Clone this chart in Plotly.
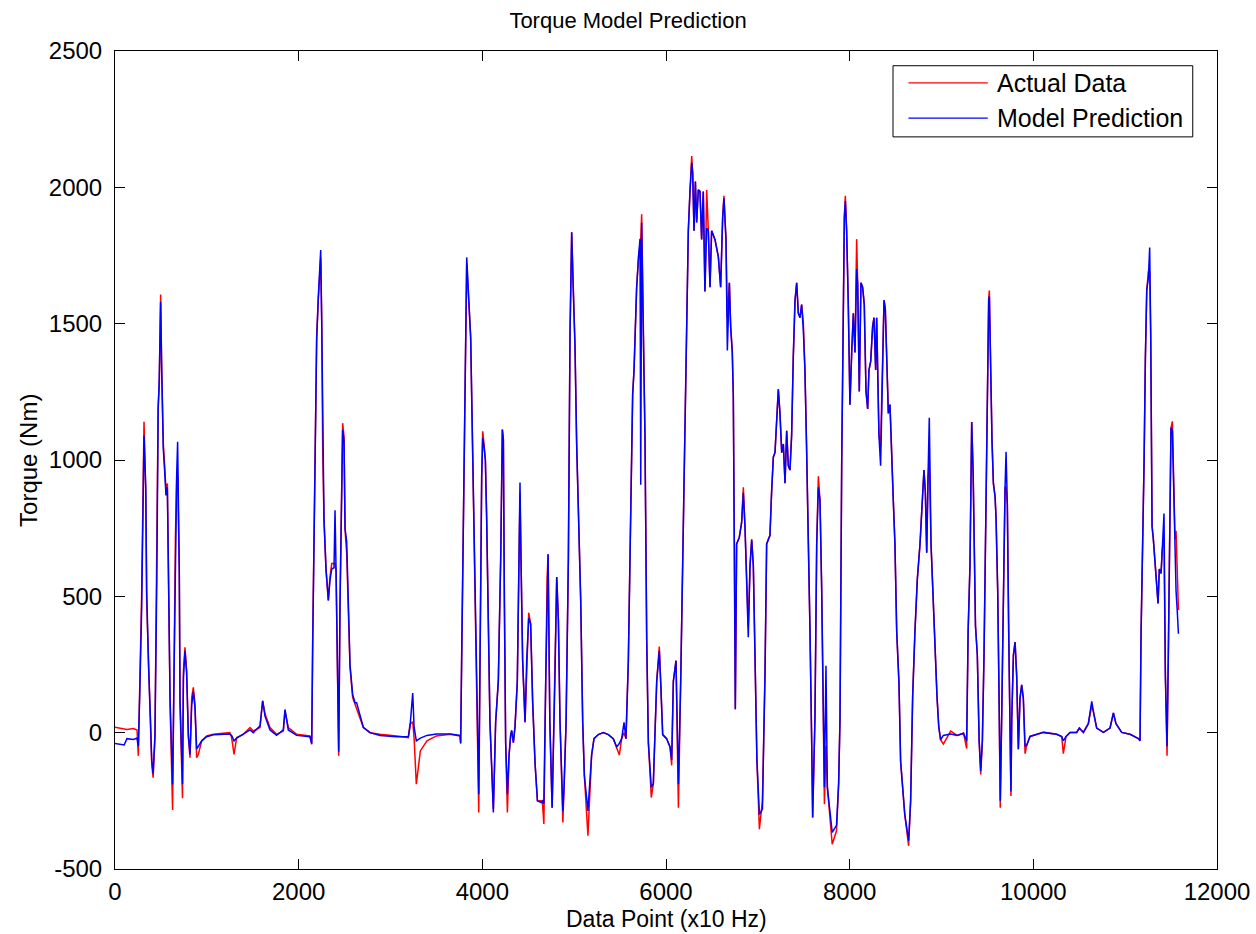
import plotly.graph_objects as go

# ---- data (x in data points, torque in Nm) ----
x_pts = [
    0, 100, 130, 200, 240, 254, 270, 290, 316, 335, 345, 352, 365, 388, 400, 415, 435, 455, 470, 482,
    497, 508, 519, 526, 544, 555, 570, 580, 600, 627, 640, 658, 672, 682, 700, 708, 735, 745, 762, 780,
    799, 817, 835, 853, 871, 889, 907, 944, 998, 1071, 1250, 1270, 1296, 1325, 1397, 1470, 1506, 1579, 1608, 1634,
    1688, 1760, 1833, 1851, 1887, 1978, 2123, 2142, 2153, 2167, 2178, 2196, 2214, 2240, 2251, 2262, 2276, 2298, 2323, 2341,
    2360, 2385, 2396, 2407, 2421, 2436, 2450, 2465, 2479, 2494, 2505, 2523, 2541, 2559, 2588, 2614, 2631, 2668, 2704, 2777,
    2886, 3068, 3194, 3212, 3242, 3257, 3281, 3325, 3397, 3500, 3650, 3757, 3764, 3775, 3795, 3809, 3830, 3873, 3884, 3902,
    3920, 3938, 3961, 3993, 4004, 4018, 4033, 4047, 4065, 4083, 4120, 4145, 4174, 4200, 4218, 4229, 4240, 4254, 4273, 4291,
    4309, 4320, 4338, 4356, 4381, 4399, 4410, 4421, 4439, 4465, 4483, 4505, 4526, 4548, 4574, 4600, 4640, 4655, 4670, 4690,
    4705, 4716, 4735, 4760, 4790, 4810, 4828, 4846, 4877, 4890, 4912, 4937, 4955, 4973, 4991, 5009, 5027, 5045, 5056, 5071,
    5093, 5111, 5150, 5190, 5216, 5263, 5318, 5372, 5426, 5463, 5492, 5517, 5543, 5564, 5590, 5615, 5637, 5652, 5680, 5702,
    5717, 5725, 5735, 5753, 5771, 5790, 5808, 5840, 5862, 5899, 5927, 5942, 5964, 6007, 6044, 6062, 6080, 6109, 6123, 6135,
    6160, 6182, 6207, 6225, 6243, 6262, 6280, 6291, 6305, 6320, 6334, 6352, 6370, 6388, 6406, 6424, 6443, 6461, 6479, 6497,
    6533, 6570, 6595, 6617, 6631, 6653, 6668, 6690, 6704, 6722, 6733, 6744, 6755, 6769, 6798, 6824, 6842, 6860, 6878, 6896,
    6915, 6933, 6951, 6969, 6990, 7017, 7050, 7078, 7096, 7114, 7132, 7150, 7169, 7187, 7205, 7223, 7241, 7260, 7278, 7296,
    7314, 7332, 7350, 7368, 7386, 7405, 7423, 7441, 7459, 7477, 7495, 7513, 7531, 7550, 7568, 7586, 7597, 7622, 7641, 7659,
    7677, 7695, 7713, 7725, 7742, 7757, 7810, 7857, 7880, 7895, 7913, 7931, 7942, 7953, 7967, 7985, 8003, 8022, 8040, 8058,
    8076, 8087, 8105, 8123, 8141, 8159, 8178, 8196, 8210, 8229, 8250, 8265, 8283, 8294, 8319, 8337, 8356, 8374, 8388, 8403,
    8421, 8439, 8457, 8475, 8493, 8512, 8537, 8555, 8600, 8642, 8664, 8686, 8711, 8737, 8766, 8795, 8809, 8824, 8839, 8853,
    8867, 8886, 8904, 8922, 8937, 8951, 8970, 8990, 9020, 9100, 9170, 9240, 9274, 9290, 9310, 9329, 9345, 9370, 9390, 9410,
    9427, 9445, 9463, 9480, 9500, 9514, 9521, 9536, 9550, 9565, 9583, 9594, 9612, 9627, 9640, 9655, 9680, 9692, 9703, 9717,
    9732, 9756, 9765, 9783, 9801, 9819, 9837, 9855, 9873, 9891, 9910, 9928, 9964, 10037, 10110, 10254, 10309, 10327, 10356, 10400,
    10472, 10501, 10545, 10599, 10636, 10661, 10690, 10763, 10835, 10872, 10900, 10962, 11053, 11144, 11162, 11173, 11191, 11206, 11220, 11235,
    11253, 11267, 11278, 11293, 11307, 11325, 11343, 11358, 11372, 11391, 11405, 11423, 11438, 11456, 11470, 11485, 11499, 11514, 11529, 11543,
    11554, 11568, 11580,
]

actual_nm = [
    20, 15, 12, 15, 10, -85, 200, 500, 1140, 870, 480, 390, 230, 10, -115, -165, -20, 600, 1200, 1270,
    1607, 1330, 1110, 1060, 960, 890, 914, 595, 100, -284, 227, 718, 939, 950, 595, 104, -240, 227, 313, 227,
    -18, -92, 129, 166, 104, -92, -80, -30, -12, -6, 0, -18, -80, -18, -6, 19, 6, 19, 117, 68,
    19, -6, 6, 80, 19, -6, -12, -43, 350, 657, 963, 1454, 1589, 1740, 1515, 1025, 779, 595, 485, 571,
    620, 620, 620, 595, 227, -85, 472, 840, 1135, 1086, 743, 657, 472, 240, 129, 104, 90, 55, 19, 0,
    -6, -12, -18, 31, 40, -20, -189, -67, -30, -12, -6, -12, -37, 288, 840, 1331, 1720, 1450, 1225, 864,
    489, 113, -293, 939, 1105, 1060, 1000, 789, 414, 38, -280, 38, 188, 639, 1112, 1075, 489, -37, -293, -82,
    -7, 8, -37, 23, 188, 714, 880, 639, 264, 38, 264, 440, 399, 113, -112, -250, -250, -260, -335, 188,
    564, 654, 38, -275, 188, 571, 414, 38, -329, -202, 38, 639, 1465, 1835, 1615, 1420, 1060, 819, 744, 489,
    38, -157, -378, -82, -22, -7, 0, -7, -22, -52, -82, -22, 0, -22, 264, 789, 1240, 1330, 1630, 1750,
    1811, 1811, 1901, 1465, 1090, 339, -37, -238, -187, 188, 316, 188, -7, -22, -52, -120, 188, 264, 38, -275,
    188, 639, 1090, 1465, 1841, 1991, 2115, 2051, 1841, 2021, 1871, 1991, 1985, 1809, 1985, 1618, 1990, 1841, 1634, 1841,
    1809, 1745, 1634, 1889, 1969, 1809, 1522, 1650, 1490, 1394, 1235, 692, 86, 692, 716, 772, 900, 756, 532, 389,
    612, 708, 612, 213, -100, -354, -250, 213, 692, 708, 724, 883, 1011, 1027, 1139, 1259, 1171, 1027, 1059, 915,
    1107, 979, 963, 1091, 1378, 1586, 1650, 1538, 1522, 1570, 1506, 1330, 1043, 740, 373, -26, -311, 54, 692, 940,
    852, 532, 54, -262, -50, -200, -409, -360, -186, 54, 979, 1522, 1889, 1969, 1841, 1570, 1203, 1394, 1538, 1394,
    1810, 1650, 1251, 1650, 1634, 1570, 1251, 1187, 1330, 1362, 1490, 1522, 1330, 1522, 1091, 1050, 1330, 1586, 1554, 1410,
    1171, 1203, 1059, 852, 692, 373, 181, -106, -300, -415, -250, 133, 373, 564, 692, 852, 963, 883, 660, 931,
    1000, 692, 532, 373, 213, 133, 22, -26, -42, 6, -10, -2, -58, 373, 612, 1139, 947, 392, 285, -30,
    -153, -30, 285, 788, 1166, 1590, 1622, 1276, 1071, 914, 867, 788, 521, 127, -275, 49, 678, 898, 900, 835,
    363, -232, 49, 285, 332, 206, -61, 127, 175, 127, -77, -46, -14, -6, 1, -6, -14, -77, -14, 1,
    1, 17, 1, 33, 100, 65, 17, 1, 17, 72, 33, 1, -6, -22, -30, 363, 647, 993, 1370, 1622,
    1690, 1690, 1464, 757, 709, 615, 521, 474, 600, 584, 678, 700, 206, -85, 285, 757, 1118, 1142, 883, 709,
    740, 600, 450,
]

model_nm = [
    -40, -45, -22, -25, -20, -50, 150, 450, 1090, 900, 520, 400, 250, 30, -100, -150, -10, 560, 1180, 1300,
    1580, 1350, 1150, 1040, 940, 870, 900, 600, 120, -190, 200, 700, 950, 1067, 600, 120, -189, 200, 300, 220,
    -10, -80, 100, 150, 90, -60, -50, -30, -15, -8, -5, -10, -30, -20, -5, 10, 0, 25, 117, 60,
    10, -10, 10, 85, 10, -10, -15, -40, 330, 640, 950, 1440, 1600, 1770, 1500, 1040, 780, 600, 485, 560,
    600, 605, 816, 600, 230, -70, 460, 820, 1110, 1070, 750, 700, 480, 250, 140, 110, 110, 60, 20, 0,
    -10, -15, -15, 20, 145, 20, -30, -20, -10, -5, -5, -10, -40, 264, 800, 1360, 1743, 1450, 1225, 864,
    489, 113, -226, 939, 1080, 1050, 1000, 789, 414, 38, -293, 38, 188, 639, 1112, 1075, 489, -37, -226, -82,
    -7, 8, -37, 23, 188, 714, 917, 639, 264, 38, 264, 420, 399, 113, -112, -250, -256, -250, -260, 188,
    564, 654, 38, -275, 188, 571, 414, 38, -287, -202, 38, 639, 1465, 1835, 1615, 1420, 1060, 819, 744, 489,
    38, -157, -287, -82, -22, -7, 0, -7, -22, -52, -40, -22, 38, -22, 264, 789, 1240, 1330, 1630, 1750,
    1811, 909, 1870, 1465, 1090, 339, -37, -201, -187, 188, 300, 188, -7, -22, -52, -100, 188, 264, 38, -189,
    188, 639, 1090, 1465, 1841, 1991, 2090, 2051, 1841, 2021, 1871, 1991, 1985, 1809, 1985, 1618, 1850, 1841, 1634, 1841,
    1809, 1745, 1634, 1889, 1960, 1809, 1402, 1650, 1490, 1394, 1235, 692, 86, 692, 716, 772, 880, 756, 532, 350,
    612, 708, 612, 213, -100, -300, -280, 213, 692, 708, 724, 883, 1011, 1027, 1139, 1259, 1171, 1027, 1059, 915,
    1107, 979, 963, 1091, 1378, 1586, 1650, 1538, 1522, 1570, 1480, 1330, 1043, 740, 373, -26, -311, 54, 692, 900,
    852, 532, 54, -200, 245, -200, -366, -340, -186, 54, 979, 1522, 1889, 1950, 1841, 1570, 1203, 1394, 1538, 1394,
    1700, 1650, 1251, 1650, 1634, 1570, 1251, 1187, 1330, 1362, 1490, 1522, 1330, 1522, 1091, 979, 1330, 1586, 1554, 1410,
    1171, 1203, 1059, 852, 692, 373, 181, -106, -300, -396, -250, 133, 373, 564, 692, 852, 963, 883, 660, 931,
    1155, 692, 532, 373, 213, 133, 22, -26, -10, -5, -10, -2, -30, 373, 612, 1139, 947, 392, 285, -30,
    -140, -30, 285, 788, 1166, 1590, 1600, 1276, 1071, 914, 867, 788, 521, 127, -250, 49, 678, 898, 1030, 835,
    363, -216, 49, 285, 332, 206, -61, 127, 175, 127, -50, -46, -14, -6, 1, -6, -14, -30, -14, 1,
    1, 17, 1, 33, 115, 65, 17, 1, 17, 72, 33, 1, -6, -22, -30, 363, 647, 993, 1370, 1622,
    1669, 1779, 1464, 757, 709, 615, 521, 474, 600, 584, 678, 804, 206, -50, 285, 757, 1118, 1110, 883, 709,
    521, 442, 363,
]

series_names = ["Actual Data", "Model Prediction"]
series_colors = ["#ff0000", "#0000ff"]
x_ticks = [0, 2000, 4000, 6000, 8000, 10000, 12000]
y_ticks = [-500, 0, 500, 1000, 1500, 2000, 2500]
x_title = "Data Point (x10 Hz)"
y_title = "Torque (Nm)"
chart_title = "Torque Model Prediction"

FONT = "Liberation Sans, Arial, sans-serif"

fig = go.Figure()
for name, vals, col in zip(series_names, [actual_nm, model_nm], series_colors):
    fig.add_trace(go.Scatter(x=x_pts, y=vals, mode="lines", name=name,
                             line=dict(color=col, width=1.5), showlegend=False))

axis_common = dict(showline=True, linecolor="black", linewidth=1, mirror="ticks",
                   ticks="inside", ticklen=10, tickcolor="black", showgrid=False,
                   zeroline=False, automargin=False,
                   tickfont=dict(family=FONT, size=24, color="black"))

fig.update_xaxes(range=[0, 12000], tickvals=x_ticks, ticktext=[str(v) for v in x_ticks],
                 ticklabelstandoff=1, **axis_common)
fig.update_yaxes(range=[-500, 2500], tickvals=y_ticks, ticktext=[str(v) for v in y_ticks],
                 ticklabelstandoff=7, **axis_common)

# axis titles placed as in the reference
fig.add_annotation(xref="paper", yref="paper", x=0.5, y=-0.061, text=x_title, showarrow=False,
                   xanchor="center", yanchor="middle", font=dict(family=FONT, size=23, color="black"))
fig.add_annotation(xref="paper", yref="paper", x=-0.079, y=0.5, text=y_title, showarrow=False,
                   textangle=-90, xanchor="center", yanchor="middle",
                   font=dict(family=FONT, size=24, color="black"))

# manual legend (MATLAB style box with long line samples)
leg_x0, leg_x1, leg_y0, leg_y1 = 0.706, 0.978, 0.895, 0.982
rows_y = [0.961, 0.918]
fig.add_shape(type="rect", xref="paper", yref="paper", x0=leg_x0, x1=leg_x1, y0=leg_y0, y1=leg_y1,
              line=dict(color="black", width=1), fillcolor="white", layer="above")
for name, col, ry in zip(series_names, series_colors, rows_y):
    fig.add_shape(type="line", xref="paper", yref="paper", x0=0.720, x1=0.792, y0=ry, y1=ry,
                  line=dict(color=col, width=1.2), layer="above")
    fig.add_annotation(xref="paper", yref="paper", x=0.799, y=ry, text=name, showarrow=False,
                       xanchor="left", yanchor="middle",
                       font=dict(family=FONT, size=25, color="black"))

fig.update_layout(
    width=1256, height=934,
    margin=dict(l=115, r=39, t=51, b=65),
    paper_bgcolor="white", plot_bgcolor="white",
    title=dict(text=chart_title, x=0.5, xanchor="center", y=1 - 20 / 934,
               yanchor="middle", yref="container",
               font=dict(family=FONT, size=22, color="black")),
)

fig.write_html("out.html")
